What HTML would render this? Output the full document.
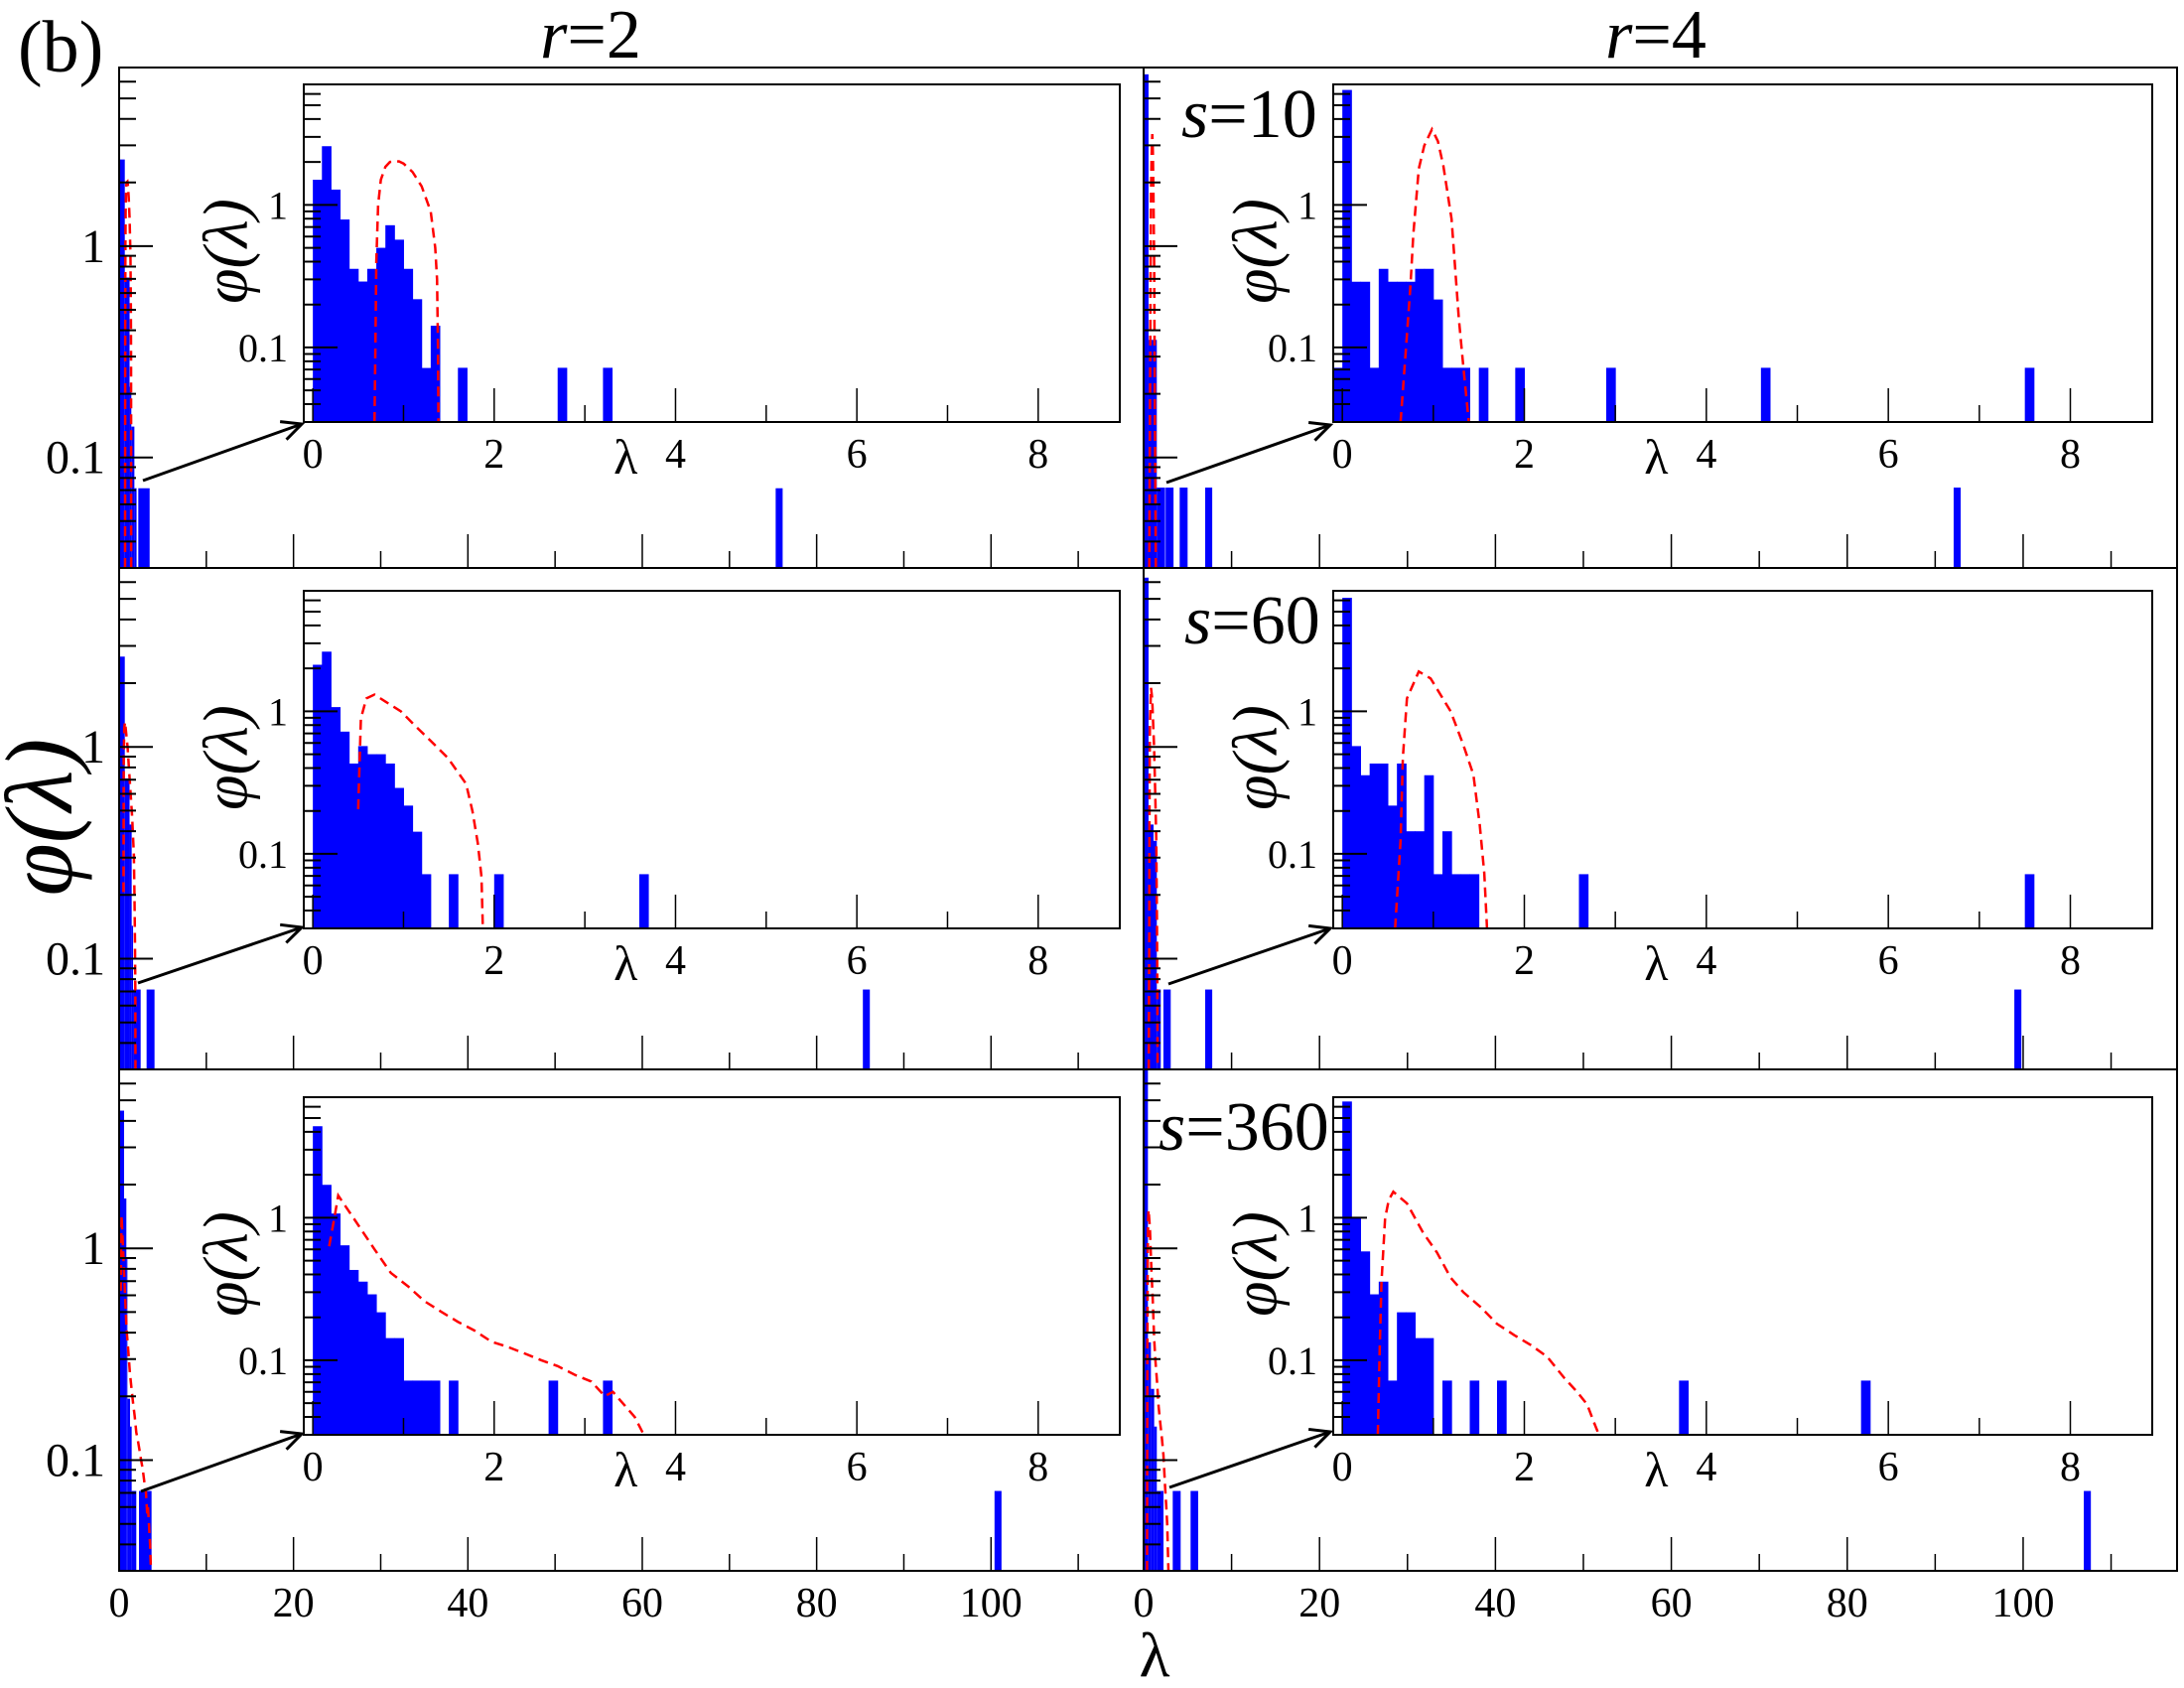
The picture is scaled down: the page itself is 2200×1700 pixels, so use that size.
<!DOCTYPE html>
<html><head><meta charset="utf-8"><style>
html,body{margin:0;padding:0;background:#fff;}
svg{display:block;font-family:"Liberation Serif",serif;}
</style></head><body>
<svg id="chart" width="2200" height="1700" viewBox="0 0 2200 1700" xmlns="http://www.w3.org/2000/svg">
<rect x="0" y="0" width="2200" height="1700" fill="#fff"/>
</svg>
<script>
// ---------- data ----------
// Panel r=2, s=10
const p1_inLam = [0,0.1,0.2,0.3,0.4,0.5,0.6,0.7,0.8,0.9,1.0,1.1,1.2,1.3,1.6,2.7,3.2];
const p1_inVal = [1.50,2.58,1.28,0.79,0.356,0.29,0.356,0.50,0.72,0.57,0.356,0.218,0.0718,0.142,0.072,0.072,0.072];
const p1_outLo = [0,0.65,1.2,1.4,1.75,2.2,75.3];
const p1_outHi = [0.65,1.2,1.4,1.75,2.0,3.5,76.1];
const p1_outVal = [2.57,0.71,0.216,0.14,0.0715,0.0715,0.0715];
const p1_curveLam = [0.68,0.69,0.70,0.72,0.75,0.8,0.85,0.95,1.0,1.1,1.2,1.3,1.35,1.37,1.38,1.385];
const p1_curveVal = [0.03,0.1,0.4,1.0,1.5,1.85,2.0,2.02,1.95,1.7,1.35,0.9,0.5,0.3,0.1,0.03];
// Panel r=4, s=10
const p2_inLam = [-0.1,0,0.1,0.2,0.3,0.4,0.5,0.6,0.7,0.8,0.9,1.0,1.1,1.2,1.3,1.5,1.9,2.9,4.6,7.5];
const p2_inVal = [0.072,6.4,0.289,0.289,0.072,0.356,0.289,0.289,0.289,0.356,0.356,0.217,0.072,0.072,0.072,0.072,0.072,0.072,0.072,0.072];
const p2_outLo = [0,0.56,1.5,2.5,4.1,7.0,92.1];
const p2_outHi = [0.56,1.5,2.44,3.4,5.0,7.8,92.9];
const p2_outVal = [6.5,0.36,0.072,0.072,0.072,0.072,0.072];
const p2_curveLam = [0.64,0.70,0.75,0.78,0.84,0.9,0.985,1.05,1.11,1.2,1.28,1.33,1.39];
const p2_curveVal = [0.03,0.1,0.28,0.62,1.79,2.6,3.39,2.8,1.88,0.8,0.16,0.073,0.03];
// Panel r=2, s=60
const p3_inLam = [0,0.1,0.2,0.3,0.4,0.5,0.6,0.7,0.8,0.9,1.0,1.1,1.2,1.5,2.0,3.6];
const p3_inVal = [2.12,2.62,1.07,0.72,0.43,0.57,0.50,0.50,0.43,0.29,0.218,0.143,0.072,0.072,0.072,0.072];
const p3_outLo = [0,0.65,1.2,1.44,1.6,3.15,85.3];
const p3_outHi = [0.65,1.2,1.44,1.6,2.47,4.06,86.1];
const p3_outVal = [2.67,0.71,0.43,0.143,0.0715,0.0715,0.0715];
const p3_curveLam = [0.50,0.53,0.59,0.68,0.80,0.97,1.12,1.30,1.49,1.69,1.76,1.82,1.86,1.875];
const p3_curveVal = [0.206,0.89,1.23,1.31,1.17,1.0,0.80,0.62,0.47,0.31,0.20,0.118,0.069,0.03];
// Panel r=4, s=60
const p4_inLam = [0,0.1,0.2,0.3,0.4,0.5,0.6,0.7,0.8,0.9,1.0,1.1,1.2,1.3,1.4,2.6,7.5];
const p4_inVal = [6.25,0.57,0.356,0.43,0.43,0.218,0.43,0.144,0.144,0.356,0.072,0.144,0.072,0.072,0.072,0.072,0.072];
const p4_outLo = [0,0.56,1.13,1.5,2.25,7.0,99.0];
const p4_outHi = [0.56,1.13,1.5,1.95,3.08,7.8,99.8];
const p4_outVal = [6.3,0.43,0.36,0.0715,0.0715,0.0715,0.0715];
const p4_curveLam = [0.58,0.64,0.665,0.71,0.84,0.97,1.19,1.33,1.44,1.51,1.56,1.59];
const p4_curveVal = [0.03,0.124,0.47,1.23,1.9,1.7,1.0,0.58,0.36,0.16,0.073,0.03];
// Panel r=2, s=360
const p5_inLam = [0,0.1,0.2,0.3,0.4,0.5,0.6,0.7,0.8,0.9,1.0,1.1,1.2,1.3,1.5,2.6,3.2];
const p5_inVal = [4.38,1.70,1.07,0.64,0.43,0.356,0.29,0.217,0.143,0.143,0.072,0.072,0.072,0.072,0.072,0.072,0.072];
const p5_outLo = [0,0.57,0.83,0.95,1.25,1.44,2.28,100.4];
const p5_outHi = [0.57,0.83,0.95,1.25,1.44,1.97,3.72,101.2];
const p5_outVal = [4.47,1.72,0.9,0.195,0.144,0.0715,0.0715,0.0715];
const p5_curveLam = [0.18,0.24,0.28,0.46,0.68,0.86,1.05,1.23,1.42,1.6,1.78,1.97,2.15,2.33,2.52,2.7,2.89,3.07,3.22,3.31,3.55,3.65];
const p5_curveVal = [0.63,1.02,1.43,0.97,0.60,0.41,0.33,0.26,0.218,0.186,0.162,0.135,0.124,0.112,0.1,0.091,0.079,0.071,0.056,0.06,0.04,0.03];
// Panel r=4, s=360
const p6_inLam = [0,0.1,0.2,0.3,0.4,0.5,0.6,0.7,0.8,0.9,1.1,1.4,1.7,3.7,5.7];
const p6_inVal = [6.53,1.0,0.58,0.29,0.356,0.072,0.217,0.217,0.143,0.143,0.072,0.072,0.072,0.072,0.072];
const p6_outLo = [0,0.49,0.83,1.2,1.5,3.31,5.34,106.9];
const p6_outHi = [0.49,0.83,1.2,1.5,2.26,4.21,6.2,107.7];
const p6_outVal = [7.5,0.36,0.217,0.144,0.0715,0.0715,0.0715,0.0715];
const p6_curveLam = [0.39,0.41,0.43,0.47,0.51,0.56,0.71,0.89,1.04,1.19,1.33,1.52,1.7,1.89,2.07,2.25,2.44,2.58,2.69,2.77,2.82];
const p6_curveVal = [0.03,0.115,0.35,0.99,1.33,1.52,1.26,0.78,0.57,0.38,0.30,0.236,0.18,0.15,0.128,0.106,0.075,0.06,0.049,0.036,0.03];

const outXTicks = [0,10,20,30,40,50,60,70,80,90,100,110];
const outXLabels = ["0","20","40","60","80","100"];
const inXTicks = [0,1,2,3,4,5,6,7,8];
const inXLabels = ["0","2","4","6","8"];
const yMinorTicks = [0.03,0.04,0.05,0.06,0.07,0.08,0.09,0.2,0.3,0.4,0.5,0.6,0.7,0.8,0.9,2,3,4,5,6];
const yMajorTicks = [0.1,1];
const yMajorLabels = ["0.1","1"];
const BIN = 0.1;
const Y_LO = 0.03, Y_HI = 7;
const OUT_XD = [0,117.5], IN_XD = [-0.1,8.9];

// ---------- drawing ----------
const NS = "http://www.w3.org/2000/svg";
const svg = document.getElementById("chart");
function mk(tag, attrs, parent){
  const e = document.createElementNS(NS, tag);
  for (const k in attrs) e.setAttribute(k, attrs[k]);
  (parent||svg).appendChild(e);
  return e;
}
function xScale(d, a, b){ return v => a + (v-d[0])/(d[1]-d[0])*(b-a); }
function yScale(y0, y1){
  const lo = Math.log10(Y_LO), hi = Math.log10(Y_HI);
  return v => y1 - (Math.log10(v)-lo)/(hi-lo)*(y1-y0);
}

const panels = [
  {id:"r2-s10", ox:[120,1152], oy:[68,572], ix:[306,1128], iy:[85,425], inL:p1_inLam, inV:p1_inVal, oLo:p1_outLo, oHi:p1_outHi, oV:p1_outVal, cL:p1_curveLam, cV:p1_curveVal, left:true, bottom:false, arrow:[144,484,304,427]},
  {id:"r4-s10", ox:[1152,2193], oy:[68,572], ix:[1343,2168], iy:[85,425], inL:p2_inLam, inV:p2_inVal, oLo:p2_outLo, oHi:p2_outHi, oV:p2_outVal, cL:p2_curveLam, cV:p2_curveVal, left:false, bottom:false, arrow:[1175,486,1340,428]},
  {id:"r2-s60", ox:[120,1152], oy:[572,1077], ix:[306,1128], iy:[595,935], inL:p3_inLam, inV:p3_inVal, oLo:p3_outLo, oHi:p3_outHi, oV:p3_outVal, cL:p3_curveLam, cV:p3_curveVal, left:true, bottom:false, arrow:[139,990,304,934]},
  {id:"r4-s60", ox:[1152,2193], oy:[572,1077], ix:[1343,2168], iy:[595,935], inL:p4_inLam, inV:p4_inVal, oLo:p4_outLo, oHi:p4_outHi, oV:p4_outVal, cL:p4_curveLam, cV:p4_curveVal, left:false, bottom:false, arrow:[1177,991,1340,935]},
  {id:"r2-s360", ox:[120,1152], oy:[1077,1582], ix:[306,1128], iy:[1105,1445], inL:p5_inLam, inV:p5_inVal, oLo:p5_outLo, oHi:p5_outHi, oV:p5_outVal, cL:p5_curveLam, cV:p5_curveVal, left:true, bottom:true, arrow:[142,1502,304,1444]},
  {id:"r4-s360", ox:[1152,2193], oy:[1077,1582], ix:[1343,2168], iy:[1105,1445], inL:p6_inLam, inV:p6_inVal, oLo:p6_outLo, oHi:p6_outHi, oV:p6_outVal, cL:p6_curveLam, cV:p6_curveVal, left:false, bottom:true, arrow:[1178,1498,1340,1442]}
];

const defs = mk("defs", {});
panels.forEach(p => {
  const cpO = mk("clipPath", {id:"co-"+p.id}, defs);
  mk("rect", {x:p.ox[0], y:p.oy[0], width:p.ox[1]-p.ox[0], height:p.oy[1]-p.oy[0]}, cpO);
  const cpI = mk("clipPath", {id:"ci-"+p.id}, defs);
  mk("rect", {x:p.ix[0], y:p.iy[0], width:p.ix[1]-p.ix[0], height:p.iy[1]-p.iy[0]}, cpI);
});

function drawTicksY(g, x0, ys, y0, y1){
  yMinorTicks.forEach(v => { const y = ys(v); if (y>y0+1 && y<y1-1) mk("line",{x1:x0,x2:x0+17,y1:y,y2:y,stroke:"#000","stroke-width":2},g); });
  yMajorTicks.forEach(v => { const y = ys(v); mk("line",{x1:x0,x2:x0+34,y1:y,y2:y,stroke:"#000","stroke-width":2},g); });
}
function drawTicksX(g, ticks, xs, yb, majorEvery){
  ticks.forEach(v => { const x = xs(v); const major = (Math.round(v/majorEvery*1000)%1000===0);
    mk("line",{x1:x,x2:x,y1:yb,y2:yb-(major?34:17),stroke:"#000","stroke-width":1.5},g); });
}

panels.forEach(p => {
  const g = mk("g", {});
  
  
  const oxs = xScale(OUT_XD, p.ox[0], p.ox[1]);
  const oys = yScale(p.oy[0], p.oy[1]);
  const ixs = xScale(IN_XD, p.ix[0], p.ix[1]);
  const iys = yScale(p.iy[0], p.iy[1]);

  const ob = mk("g", {"clip-path":"url(#co-"+p.id+")"}, g);
  
  
  p.oV.forEach((v,i) => {
    const x0 = oxs(p.oLo[i]), x1 = oxs(p.oHi[i]), y = oys(v);
    const r = mk("rect", {x:x0, y:y, width:Math.max(1,x1-x0), height:p.oy[1]-y, fill:"#0000ff"}, ob);
    
    
  });
  const oc = mk("polyline", {points:p.cL.map((l,i)=>oxs(l)+","+oys(p.cV[i])).join(" "), fill:"none", stroke:"#ff0000","stroke-width":2.5,"stroke-dasharray":"10,6","clip-path":"url(#co-"+p.id+")"}, g);
  
  

  const of = mk("rect", {x:p.ox[0], y:p.oy[0], width:p.ox[1]-p.ox[0], height:p.oy[1]-p.oy[0], fill:"none", stroke:"#000","stroke-width":2}, g);
  
  
  drawTicksY(g, p.ox[0], oys, p.oy[0], p.oy[1]);
  drawTicksX(g, outXTicks, oxs, p.oy[1], 20);
  if (p.left) {
    yMajorTicks.forEach((v,i) => {
      const t = mk("text", {x:106, y:oys(v)+16, "font-size":48, "text-anchor":"end"}, g);
      t.textContent = yMajorLabels[i];
      
      
    });
  }
  if (p.bottom) {
    outXLabels.forEach((s,i) => {
      const t = mk("text", {x:oxs(i*20), y:p.oy[1]+46, "font-size":42, "text-anchor":"middle"}, g);
      t.textContent = s;
      
      
    });
  }

  const ibg = mk("rect", {x:p.ix[0], y:p.iy[0], width:p.ix[1]-p.ix[0], height:p.iy[1]-p.iy[0], fill:"#fff"}, g);
  
  
  const ib = mk("g", {"clip-path":"url(#ci-"+p.id+")"}, g);
  
  
  p.inV.forEach((v,i) => {
    const x0 = ixs(p.inL[i]), x1 = ixs(p.inL[i]+BIN), y = iys(v);
    const r = mk("rect", {x:x0, y:y, width:x1-x0+0.5, height:p.iy[1]-y, fill:"#0000ff"}, ib);
    
    
  });
  const ic = mk("polyline", {points:p.cL.map((l,i)=>ixs(l)+","+iys(p.cV[i])).join(" "), fill:"none", stroke:"#ff0000","stroke-width":2.5,"stroke-dasharray":"10,6","clip-path":"url(#ci-"+p.id+")"}, g);
  
  
  const inf = mk("rect", {x:p.ix[0], y:p.iy[0], width:p.ix[1]-p.ix[0], height:p.iy[1]-p.iy[0], fill:"none", stroke:"#000","stroke-width":2}, g);
  
  
  drawTicksY(g, p.ix[0], iys, p.iy[0], p.iy[1]);
  drawTicksX(g, inXTicks, ixs, p.iy[1], 2);
  yMajorTicks.forEach((v,i) => {
    const t = mk("text", {x:p.ix[0]-16, y:iys(v)+14, "font-size":40, "text-anchor":"end"}, g);
    t.textContent = yMajorLabels[i];
    
    
  });
  inXLabels.forEach((s,i) => {
    const t = mk("text", {x:ixs(i*2), y:p.iy[1]+46, "font-size":42, "text-anchor":"middle"}, g);
    t.textContent = s;
    
    
  });
  const xl = mk("text", {x:ixs(3.45), y:p.iy[1]+52, "font-size":50, "text-anchor":"middle"}, g);
  xl.textContent = "λ";
  
  
  const cx = p.ix[0]-72, cy = p.iy[0]+168;
  const yl = mk("text", {x:cx, y:cy, "font-size":64, "font-style":"italic", "text-anchor":"middle", transform:"rotate(-90 "+cx+" "+cy+")", "dominant-baseline":"middle"}, g);
  yl.textContent = "φ(λ)";
  
  

  const a = p.arrow;
  const ag = mk("g", {}, g);
  
  
  mk("line", {x1:a[0], y1:a[1], x2:a[2], y2:a[3], stroke:"#000", "stroke-width":3}, ag);
  const ang = Math.atan2(a[3]-a[1], a[2]-a[0]);
  const L = 22, sp = 0.45;
  const p1x = a[2]-L*Math.cos(ang-sp), p1y = a[3]-L*Math.sin(ang-sp);
  const p2x = a[2]-L*Math.cos(ang+sp), p2y = a[3]-L*Math.sin(ang+sp);
  mk("polyline", {points:p1x+","+p1y+" "+a[2]+","+a[3]+" "+p2x+","+p2y, fill:"none", stroke:"#000","stroke-width":3}, ag);
});

function txt(x,y,size,html,name,extra){
  const t = mk("text", Object.assign({x:x,y:y,"font-size":size}, extra||{}));
  t.innerHTML = html;
  
  
  return t;
}
txt(18,72,74,"(b)","panel-letter");
txt(595,58,70,'<tspan font-style="italic">r</tspan>=2',"column-title-r2",{"text-anchor":"middle"});
txt(1668,58,70,'<tspan font-style="italic">r</tspan>=4',"column-title-r4",{"text-anchor":"middle"});
txt(1190,138,70,'<tspan font-style="italic">s</tspan>=10',"row-label-s10");
txt(1193,648,70,'<tspan font-style="italic">s</tspan>=60',"row-label-s60");
txt(1167,1158,70,'<tspan font-style="italic">s</tspan>=360',"row-label-s360");
txt(1163,1688,64,"λ","x-axis-title",{"text-anchor":"middle"});
txt(50,823,96,"φ(λ)","y-axis-title",{"text-anchor":"middle","font-style":"italic","dominant-baseline":"middle",transform:"rotate(-90 50 823)"});
</script>
</body></html>
